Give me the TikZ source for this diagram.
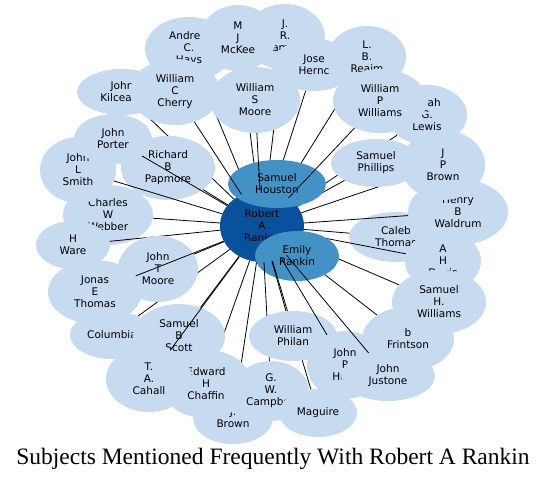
\documentclass[tikz,border=0pt]{standalone}
\usepackage{fontspec}
\setmainfont{DejaVu Sans}
\newfontfamily\capfont{Liberation Serif}
\usetikzlibrary{shapes.geometric}
\definecolor{leafc}{HTML}{C6DBEF}
\definecolor{midc}{HTML}{4292C6}
\definecolor{hubc}{HTML}{08519C}
\tikzset{
  lbl/.style={ellipse, inner sep=0pt, align=center, text=black,
    font=\fontsize{10.5}{12}\selectfont},
  leaf/.style={lbl, fill=leafc},
  mid/.style={lbl, fill=midc},
  hub/.style={lbl, fill=hubc},
  conn/.style={black, line width=0.8pt},
  sz/.style 2 args={minimum width=#1pt, minimum height=#2pt}
}
\begin{document}
\begin{tikzpicture}[x=1pt, y=-1pt]
\useasboundingbox (0,0) rectangle (547,480);
\node[hub, sz={84}{72}] (robert) at (262,226) {Robert\\A\\Rankin};
% before Houston
\node[leaf, sz={94}{50}] (caleb) at (396,237) {Caleb\\Thomas};
\draw[conn] (robert) -- (caleb);
\node[leaf, sz={88}{64}] (andrew) at (189,49) {Andrew\\C.\\Hays};
\draw[conn] (robert) -- (andrew);
\node[leaf, sz={80}{66}] (jr) at (285,37) {J.\\R.\\James};
\draw[conn] (robert) -- (jr);
\node[leaf, sz={76}{66}] (mckee) at (238,38) {M\\J\\McKee};
\draw[conn] (robert) -- (mckee);
\node[leaf, sz={84}{52}] (jose) at (314,65) {Jose\\Hernc};
\draw[conn] (robert) -- (jose);
\node[leaf, sz={78}{62}] (reaim) at (367,57) {L.\\B.\\Reaim};
\draw[conn] (robert) -- (reaim);
\node[leaf, sz={80}{60}] (lewis) at (427,115) {Noah\\G.\\Lewis};
\draw[conn] (robert) -- (lewis);
\node[leaf, sz={100}{66}] (waldrum) at (458,212) {Henry\\B\\Waldrum};
\draw[conn] (robert) -- (waldrum);
\node[leaf, sz={84}{70}] (jpbrown) at (443,165) {J\\P\\Brown};
\draw[conn] (robert) -- (jpbrown);
\node[leaf, sz={90}{48}] (phillips) at (376,163) {Samuel\\Phillips};
\draw[conn] (robert) -- (phillips);
\node[leaf, sz={90}{46}] (kilcease) at (122,92) {John\\Kilcease};
\draw[conn] (robert) -- (kilcease);
% Houston
\node[mid, sz={98}{48}] (houston) at (277,184) {Samuel\\Houston};
\node[leaf, sz={94}{64}] (wpw) at (380,101) {William\\P\\Williams};
\draw[conn] (robert) -- (wpw);
\node[leaf, sz={90}{66}] (cherry) at (175,92) {William\\C\\Cherry};
\draw[conn] (robert) -- (cherry);
\node[leaf, sz={90}{66}] (wsmoore) at (255,100) {William\\S\\Moore};
\draw[conn] (robert) -- (wsmoore);
\node[leaf, sz={94}{64}] (papmore) at (168,168) {Richard\\B\\Papmore};
\draw[conn] (robert) -- (papmore);
\node[leaf, sz={90}{60}] (webber) at (108,215) {Charles\\W\\Webber};
\draw[conn] (robert) -- (webber);
\node[leaf, sz={76}{66}] (smith) at (78,170) {John\\L\\Smith};
\draw[conn] (robert) -- (smith);
\node[leaf, sz={78}{50}] (porter) at (113,139) {John\\Porter};
\draw[conn] (robert) -- (porter);
\node[leaf, sz={74}{48}] (ware) at (73,245) {H\\Ware};
\draw[conn] (robert) -- (ware);
\node[leaf, sz={84}{48}] (columbia) at (112,335) {Columbia};
\draw[conn] (robert) -- (columbia);
\node[leaf, sz={80}{52}] (brown) at (233,418) {J.\\Brown};
\draw[conn] (robert) -- (brown);
\node[leaf, sz={92}{68}] (chaffin) at (206,384) {Edward\\H\\Chaffin};
\draw[conn] (robert) -- (chaffin);
\node[leaf, sz={80}{66}] (jtmoore) at (158,269) {John\\T\\Moore};
\draw[conn] (robert) -- (jtmoore);
\node[leaf, sz={94}{64}] (jonas) at (95,292) {Jonas\\E\\Thomas};
\draw[conn] (robert) -- (jonas);
\node[leaf, sz={92}{64}] (scott) at (179,336) {Samuel\\B\\Scott};
\draw[conn] (robert) -- (scott);
\node[leaf, sz={86}{66}] (cahall) at (149,379) {T.\\A.\\Cahall};
\draw[conn] (robert) -- (cahall);
\node[leaf, sz={76}{60}] (davis) at (443,261) {A\\H\\Davis};
\draw[conn] (robert) -- (davis);
\node[leaf, sz={92}{64}] (frintson) at (408,339) {b\\Frintson};
\draw[conn] (robert) -- (frintson);
\node[leaf, sz={94}{64}] (shw) at (439,302) {Samuel\\H.\\Williams};
\draw[conn] (robert) -- (shw);
% Emily
\node[mid, sz={84}{50}] (emily) at (297,256) {Emily\\Rankin};
\node[leaf, sz={76}{60}] (campbell) at (271,391) {G.\\W.\\Campbell};
\draw[conn] (robert) -- (campbell);
\node[leaf, sz={78}{48}] (maguire) at (318,413) {Maguire};
\draw[conn] (robert) -- (maguire);
\node[leaf, sz={88}{50}] (philan) at (293,336) {William\\Philan};
\draw[conn] (robert) -- (philan);
\node[leaf, sz={76}{68}] (jph) at (345,365) {John\\P\\Hunt};
\draw[conn] (robert) -- (jph);
\node[leaf, sz={94}{50}] (justone) at (388,376) {John\\Justone};
\draw[conn] (robert) -- (justone);
% caption
\node[inner sep=0pt, font=\capfont\fontsize{23.5}{27}\selectfont] (caption) at (273,459) {Subjects Mentioned Frequently With Robert A Rankin};
\end{tikzpicture}
\end{document}
